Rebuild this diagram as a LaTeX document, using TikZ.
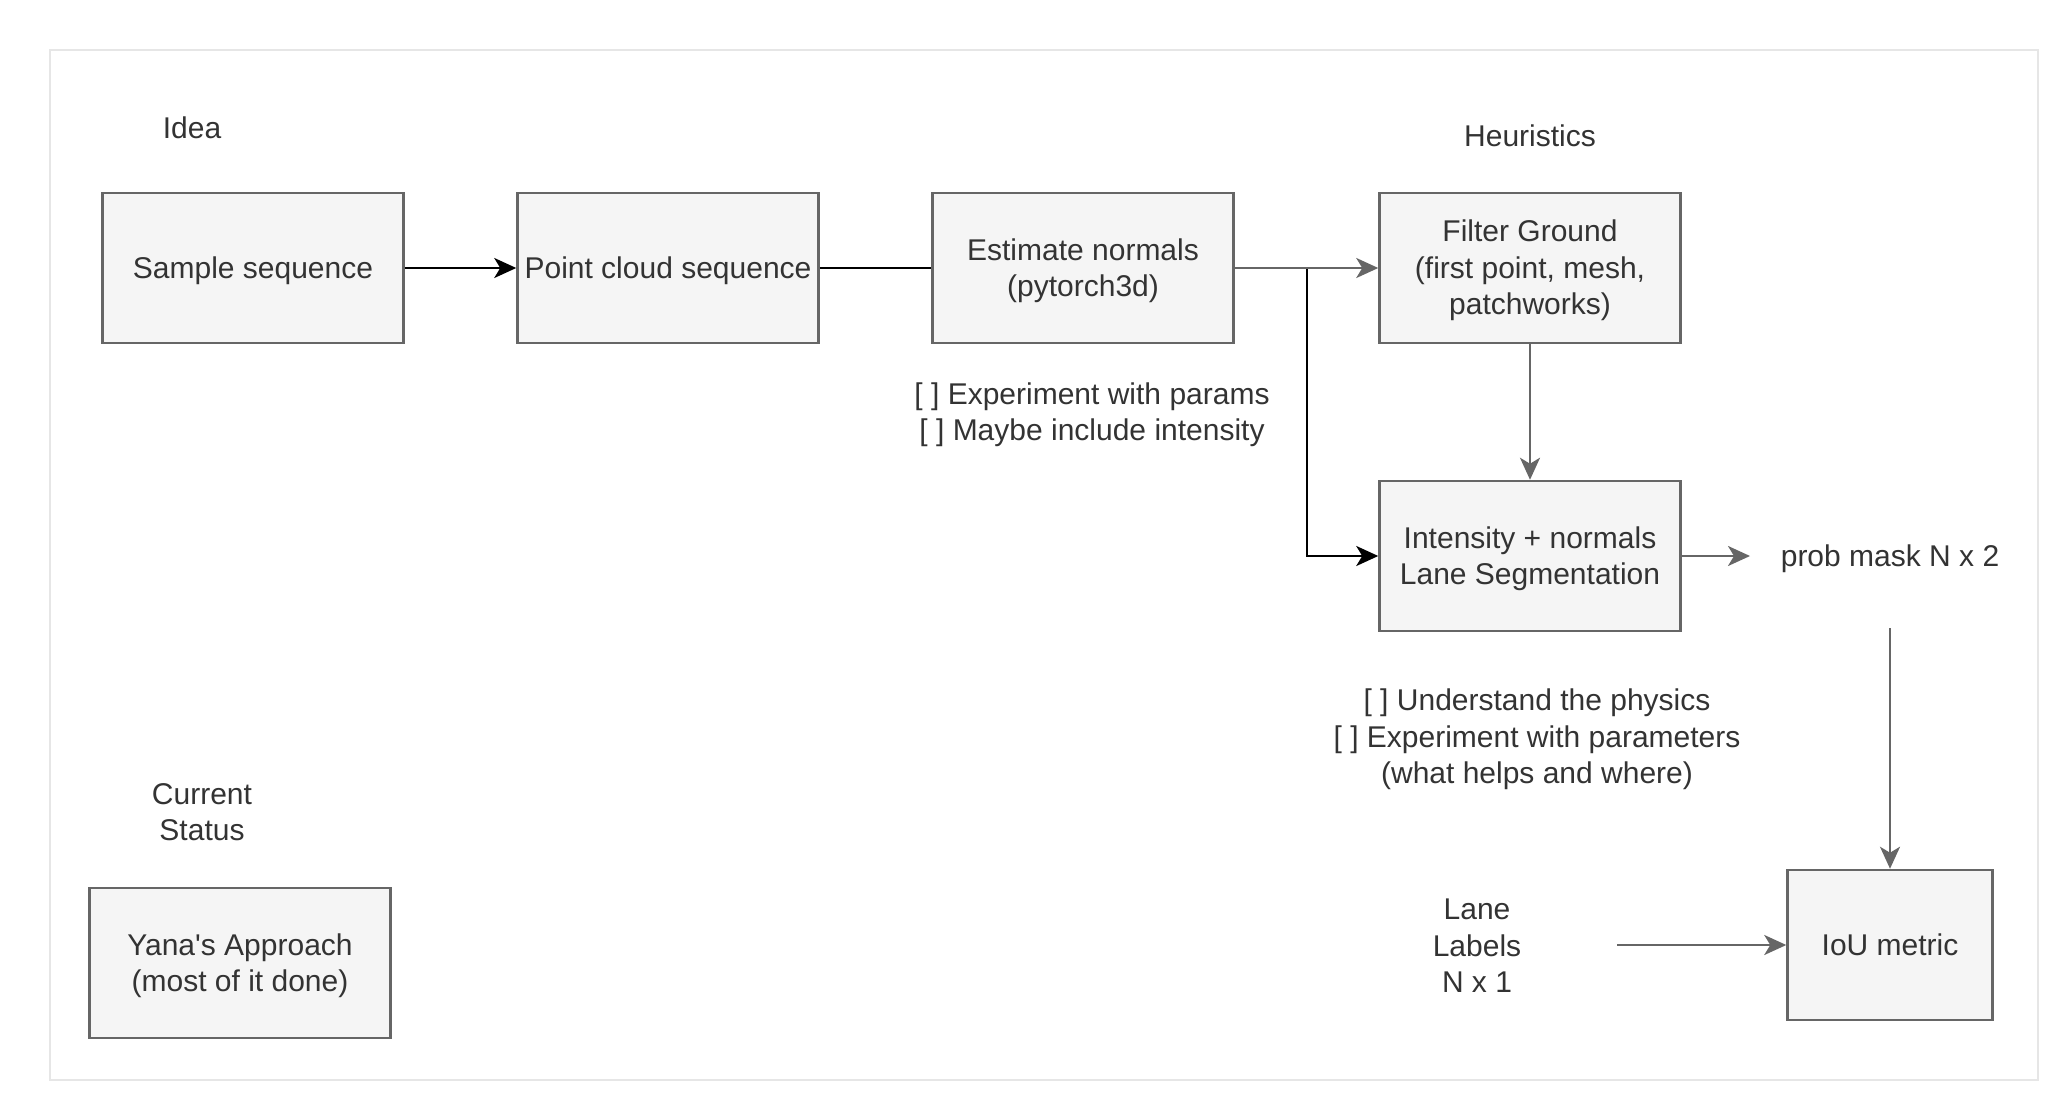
\documentclass[tikz,border=0pt]{standalone}
\usepackage{fontspec}
\setmainfont{Liberation Sans}
\usetikzlibrary{arrows.meta}
\definecolor{txt}{HTML}{333333}
\definecolor{boxline}{HTML}{666666}
\definecolor{boxfill}{HTML}{F5F5F5}
\definecolor{frameline}{HTML}{E6E6E6}
\newcommand\ls{\rule[-7.6pt]{0pt}{36pt}}
\begin{document}
\begin{tikzpicture}[x=1pt,y=-1pt,
  every node/.style={font=\fontsize{30}{36.5}\selectfont, text=txt, align=center, inner sep=0pt},
  procbox/.style={draw=boxline, fill=boxfill, line width=2.5pt, minimum width=301pt, minimum height=150pt},
  lbl/.style={},
  tipc/.style={-{Stealth[length=22pt,width=20pt,inset=6pt]}},
  blk/.style={draw=black, line width=2.5pt},
  gry/.style={draw=boxline, line width=2.5pt}]
\useasboundingbox (0,0) rectangle (2060,1102);
\draw[frameline, line width=1.5pt] (50,50) rectangle (2038,1080);

\node[lbl] (idea) at (192,128) {\ls Idea};
\node[lbl] (heur) at (1530,136) {\ls Heuristics};
\node[lbl] (cur) at (202,812) {\ls Current\\\ls Status};

\node[procbox] (sample) at (253,268) {\ls Sample sequence};
\node[procbox] (pcs) at (668,268) {\ls Point cloud sequence};
\node[procbox] (est) at (1083,268) {\ls Estimate normals\\\ls (pytorch3d)};
\node[procbox] (filt) at (1530,268) {\ls Filter Ground\\\ls (first point, mesh,\\\ls patchworks)};
\node[procbox] (inten) at (1530,556) {\ls Intensity + normals\\\ls Lane Segmentation};
\node[procbox, minimum width=205pt] (iou) at (1890,945) {\ls IoU metric};
\node[procbox] (yana) at (240,963) {\ls Yana\textquotesingle s Approach\\\ls (most of it done)};

\node[lbl] (prob) at (1890,556) {\ls prob mask N x 2};
\node[lbl] (lane) at (1477,946) {\ls Lane\\\ls Labels\\\ls N x 1};
\node[lbl] (exp1) at (1092,412) {\ls [ ] Experiment with params\\\ls [ ] Maybe include intensity};
\node[lbl] (exp2) at (1537,737) {\ls [ ] Understand the physics\\\ls [ ] Experiment with parameters\\\ls (what helps and where)};

\coordinate (jn) at (1307,268);
\coordinate (probend) at (1750,556);
\coordinate (probtop) at (1890,628);
\coordinate (lanestart) at (1617,945);

\draw[blk, tipc] (sample) -- (pcs);
\draw[blk] (pcs) -- (est);
\draw[blk, tipc] (jn) |- (inten.west);
\draw[gry, tipc] (est) -- (filt);
\draw[gry, tipc] (filt) -- (inten);
\draw[gry, tipc] (inten) -- (probend);
\draw[gry, tipc] (probtop) -- (iou);
\draw[gry, tipc] (lanestart) -- (iou);
\end{tikzpicture}
\end{document}
